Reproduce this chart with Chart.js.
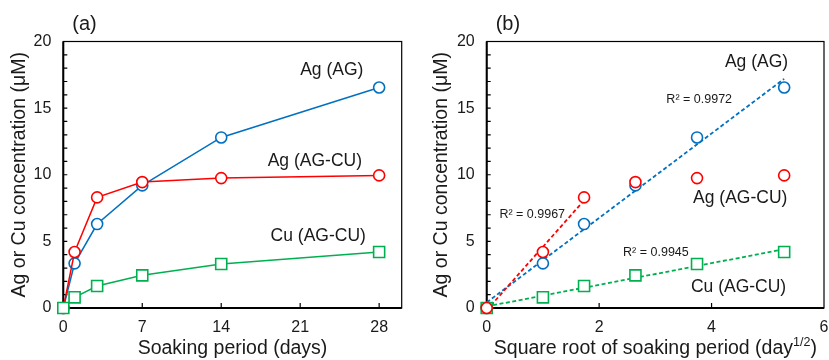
<!DOCTYPE html>
<html>
<head>
<meta charset="utf-8">
<script src="https://cdn.jsdelivr.net/npm/chart.js@4"></script>
<style>
  body { margin: 0; background: #fff; }
  #chartA { position: absolute; left: 0; top: 0; }
  #chartB { position: absolute; left: 415px; top: 0; }
</style>
</head>
<body>
<canvas id="chartA" width="415" height="360"></canvas>
<canvas id="chartB" width="414" height="360"></canvas>
<script>
// soaking days and measured concentrations (uM)
var days = [0, 1, 3, 7, 14, 28];
var agAG = [0, 3.35, 6.3, 9.2, 12.8, 16.55];
var agAGCU = [0, 4.2, 8.3, 9.45, 9.75, 9.95];
var cuAGCU = [0, 0.8, 1.65, 2.45, 3.3, 4.2];

var dayTicks = [0, 7, 14, 21, 28];
var r2Labels = ['R² = 0.9972', 'R² = 0.9967', 'R² = 0.9945'];

var BLUE = '#0070C0';
var RED = '#FF0000';
var GREEN = '#00B050';
var FONT = "'Liberation Sans', Arial, sans-serif";
var TEXT = '#1a1a1a';

Chart.defaults.font.family = FONT;
Chart.defaults.color = TEXT;

var rootDays = days.map(function (d) { return Math.sqrt(d); });

function pts(xs, ys) {
  return xs.map(function (v, i) { return { x: v, y: ys[i] }; });
}

// least squares line, returned as its two end points over the x range
function linFit(xs, ys) {
  var n = xs.length, mx = 0, my = 0;
  for (var i = 0; i < n; i++) { mx += xs[i]; my += ys[i]; }
  mx /= n; my /= n;
  var sxy = 0, sxx = 0;
  for (var j = 0; j < n; j++) {
    sxy += (xs[j] - mx) * (ys[j] - my);
    sxx += (xs[j] - mx) * (xs[j] - mx);
  }
  var b = sxy / sxx, a = my - b * mx;
  var x0 = Math.min.apply(null, xs), x1 = Math.max.apply(null, xs);
  return [{ x: x0, y: a + b * x0 }, { x: x1, y: a + b * x1 }];
}

// plot box, inward tick marks
var frame = {
  id: 'frame',
  beforeDatasetsDraw: function (chart) {
    var ctx = chart.ctx, a = chart.chartArea, x = chart.scales.x, y = chart.scales.y;
    ctx.save();
    ctx.strokeStyle = '#000';
    ctx.lineWidth = 1.2;
    ctx.strokeRect(a.left, a.top, a.right - a.left, a.bottom - a.top);
    ctx.lineWidth = 2;
    ctx.beginPath();
    ctx.moveTo(a.left, a.top);
    ctx.lineTo(a.left, a.bottom);
    ctx.lineTo(a.right, a.bottom);
    ctx.stroke();
    ctx.lineWidth = 1.2;
    ctx.beginPath();
    for (var v = 1; v < 20; v++) {
      var py = y.getPixelForValue(v);
      ctx.moveTo(a.left, py);
      ctx.lineTo(a.left + 4, py);
    }
    x.ticks.forEach(function (t) {
      var px = x.getPixelForValue(t.value);
      if (px > a.left + 2 && px < a.right - 2) {
        ctx.moveTo(px, a.bottom);
        ctx.lineTo(px, a.bottom - 5);
      }
    });
    ctx.stroke();
    ctx.restore();
  }
};

// panel letter, series names and R² notes
var notes = {
  id: 'notes',
  afterDatasetsDraw: function (chart, args, opts) {
    var ctx = chart.ctx, a = chart.chartArea, x = chart.scales.x, y = chart.scales.y;
    ctx.save();
    ctx.fillStyle = TEXT;
    ctx.textBaseline = 'middle';
    ctx.textAlign = 'left';
    ctx.font = '20px ' + FONT;
    ctx.fillText(opts.panel, a.left + 9, a.top - 17);
    ctx.textAlign = 'center';
    opts.items.forEach(function (it) {
      ctx.font = it.size + 'px ' + FONT;
      ctx.fillText(it.text, x.getPixelForValue(it.x), y.getPixelForValue(it.y));
    });
    if (opts.supTitle) {
      var s = opts.supTitle;
      var cx = (a.left + a.right) / 2, cy = 349;
      ctx.font = '19.5px ' + FONT;
      var w1 = ctx.measureText(s[0]).width, w3 = ctx.measureText(s[2]).width;
      ctx.font = '12.5px ' + FONT;
      var w2 = ctx.measureText(s[1]).width;
      var left = cx - (w1 + w2 + w3) / 2;
      ctx.textAlign = 'left';
      ctx.font = '19.5px ' + FONT;
      ctx.fillText(s[0], left, cy);
      ctx.fillText(s[2], left + w1 + w2, cy);
      ctx.font = '12.5px ' + FONT;
      ctx.fillText(s[1], left + w1, cy - 6);
    }
    ctx.restore();
  }
};

function yAxis(width, titlePad) {
  return {
    min: 0, max: 20,
    grid: { display: false, drawTicks: false },
    border: { display: false },
    ticks: { stepSize: 5, padding: 12, font: { size: 16 }, color: TEXT },
    title: { display: true, text: 'Ag or Cu concentration (μM)', font: { size: 19.5 }, color: TEXT, padding: { top: titlePad, bottom: 0 } },
    afterFit: function (s) { s.width = width; s.paddingTop = 0; s.paddingBottom = 0; }
  };
}

function xFit(s) {
  s.height = 52;
  s.paddingLeft = 0;
  s.paddingRight = 0;
}

function series(data, color, style, opts) {
  var d = {
    data: data,
    borderColor: color,
    backgroundColor: '#fff',
    pointBorderColor: color,
    pointBackgroundColor: '#fff',
    pointStyle: style,
    pointRadius: style === 'rect' ? 7.8 : 5.5,
    pointBorderWidth: 1.6,
    borderWidth: 1.5,
    showLine: true,
    clip: false
  };
  for (var k in opts) d[k] = opts[k];
  return d;
}

function trend(data, color, order) {
  return {
    data: data,
    borderColor: color,
    borderWidth: 1.8,
    borderDash: [4, 2.5],
    pointRadius: 0,
    showLine: true,
    clip: false,
    order: order
  };
}

new Chart(document.getElementById('chartA'), {
  type: 'scatter',
  data: {
    datasets: [
      series(pts(days, cuAGCU), GREEN, 'rect', { order: 1 }),
      series(pts(days, agAGCU), RED, 'circle', { order: 2 }),
      series(pts(days, agAG), BLUE, 'circle', { order: 3 })
    ]
  },
  options: {
    responsive: false,
    animation: false,
    layout: { autoPadding: false, padding: { left: 0, top: 41.5, right: 13.3, bottom: 0 } },
    plugins: {
      legend: { display: false },
      tooltip: { enabled: false },
      notes: {
        panel: '(a)',
        items: [
          { text: 'Ag (AG)', x: 23.8, y: 17.85, size: 17.5 },
          { text: 'Ag (AG-CU)', x: 22.3, y: 11.0, size: 17.5 },
          { text: 'Cu (AG-CU)', x: 22.6, y: 5.4, size: 17.5 }
        ]
      }
    },
    scales: {
      x: {
        min: 0, max: 30,
        grid: { display: false, drawTicks: false },
        border: { display: false },
        ticks: { padding: 10, font: { size: 16 }, color: TEXT },
        afterBuildTicks: function (s) { s.ticks = dayTicks.map(function (v) { return { value: v }; }); },
        title: { display: true, text: 'Soaking period (days)', font: { size: 19.5 }, color: TEXT, padding: { top: 0, bottom: 0 } },
        afterFit: xFit
      },
      y: yAxis(63.3, 8.3)
    }
  },
  plugins: [frame, notes]
});

new Chart(document.getElementById('chartB'), {
  type: 'scatter',
  data: {
    datasets: [
      series(pts(rootDays, agAGCU), RED, 'circle', { showLine: false, order: 1 }),
      series(pts(rootDays, cuAGCU), GREEN, 'rect', { showLine: false, order: 2 }),
      series(pts(rootDays, agAG), BLUE, 'circle', { showLine: false, order: 3 }),
      trend(linFit(rootDays.slice(0, 3), agAGCU.slice(0, 3)), RED, 4),
      trend(linFit(rootDays, cuAGCU), GREEN, 5),
      trend(linFit(rootDays, agAG), BLUE, 6)
    ]
  },
  options: {
    responsive: false,
    animation: false,
    layout: { autoPadding: false, padding: { left: 0, top: 41.5, right: 5, bottom: 0 } },
    plugins: {
      legend: { display: false },
      tooltip: { enabled: false },
      notes: {
        panel: '(b)',
        supTitle: ['Square root of soaking period (day', '1/2', ')'],
        items: [
          { text: 'Ag (AG)', x: 4.8, y: 18.45, size: 17.5 },
          { text: r2Labels[0], x: 3.78, y: 15.68, size: 12.5 },
          { text: r2Labels[1], x: 0.81, y: 7.05, size: 12.5 },
          { text: 'Ag (AG-CU)', x: 4.51, y: 8.25, size: 17.5 },
          { text: r2Labels[2], x: 3.01, y: 4.13, size: 12.5 },
          { text: 'Cu (AG-CU)', x: 4.48, y: 1.58, size: 17.5 }
        ]
      }
    },
    scales: {
      x: {
        min: 0, max: 6,
        grid: { display: false, drawTicks: false },
        border: { display: false },
        ticks: { stepSize: 2, padding: 10, font: { size: 16 }, color: TEXT },
        title: { display: false },
        afterFit: xFit
      },
      y: yAxis(71.7, 15.3)
    }
  },
  plugins: [frame, notes]
});
</script>
</body>
</html>
